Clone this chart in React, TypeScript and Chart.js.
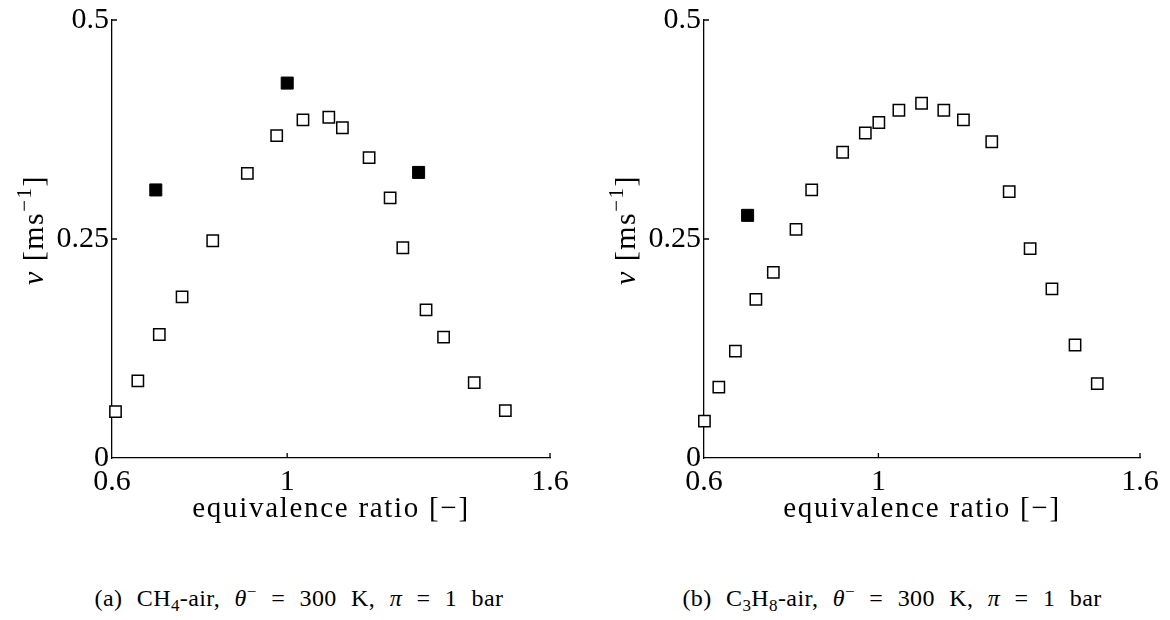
import React, { useEffect, useRef } from "react";
import { Chart, registerables } from "chart.js";

Chart.register(...registerables);

// Axis ticks shared by both panels
const xTickValues = [0.6, 1, 1.6];
const yTickValues = [0, 0.25, 0.5];

// Panel (a): CH4-air, laminar burning velocity v [m/s] vs equivalence ratio
const ch4PhiOpen = [0.608, 0.659, 0.708, 0.76, 0.83, 0.909, 0.976, 1.036, 1.095, 1.126, 1.187, 1.235, 1.264, 1.317, 1.357, 1.427, 1.498];
const ch4SpeedOpen = [0.053, 0.088, 0.141, 0.184, 0.248, 0.325, 0.368, 0.386, 0.389, 0.377, 0.343, 0.297, 0.24, 0.169, 0.138, 0.086, 0.054];
const ch4PhiFilled = [0.7, 1.0, 1.3];
const ch4SpeedFilled = [0.306, 0.428, 0.326];

// Panel (b): C3H8-air
const c3h8PhiOpen = [0.601, 0.634, 0.672, 0.719, 0.759, 0.811, 0.847, 0.918, 0.97, 1.001, 1.047, 1.099, 1.15, 1.195, 1.26, 1.3, 1.348, 1.398, 1.451, 1.502];
const c3h8SpeedOpen = [0.042, 0.081, 0.122, 0.181, 0.212, 0.261, 0.306, 0.349, 0.371, 0.383, 0.397, 0.405, 0.397, 0.386, 0.361, 0.304, 0.239, 0.193, 0.129, 0.085];
const c3h8PhiFilled = [0.7];
const c3h8SpeedFilled = [0.277];

const SERIF = '"Liberation Serif", "DejaVu Serif", serif';

type PanelProps = {
  phiOpen: number[];
  vOpen: number[];
  phiFilled: number[];
  vFilled: number[];
  left: number;
  axisLeft: number;
  rightPad: number;
};

const W = 585;
const H = 540;
const TOP = 20;
const BOTTOM = 458;

function Panel({ phiOpen, vOpen, phiFilled, vFilled, left, axisLeft, rightPad }: PanelProps) {
  const ref = useRef<HTMLCanvasElement | null>(null);

  useEffect(() => {
    const canvas = ref.current;
    if (!canvas) return;
    let chart: Chart | null = null;
    let cancelled = false;

    const decorations = {
      id: "decorations",
      afterDraw(c: any) {
        const { ctx, chartArea } = c;
        const xs = c.scales.x;
        const ys = c.scales.y;
        ctx.save();
        // inward tick marks
        ctx.strokeStyle = "#000";
        ctx.lineWidth = 1.3;
        ctx.beginPath();
        for (const v of yTickValues) {
          if (v === 0) continue;
          const py = ys.getPixelForValue(v);
          ctx.moveTo(chartArea.left, py);
          ctx.lineTo(chartArea.left + 5, py);
        }
        for (const v of xTickValues) {
          if (v === 0.6) continue;
          const px = xs.getPixelForValue(v);
          ctx.moveTo(px, chartArea.bottom);
          ctx.lineTo(px, chartArea.bottom - 5);
        }
        ctx.stroke();

        // x-axis title
        ctx.fillStyle = "#000";
        ctx.font = `29px ${SERIF}`;
        (ctx as any).letterSpacing = "1.7px";
        ctx.textAlign = "center";
        ctx.textBaseline = "middle";
        ctx.fillText("equivalence ratio [\u2212]", (chartArea.left + chartArea.right) / 2, 509);

        // y-axis title: v [ms^-1], rotated
        (ctx as any).letterSpacing = "1.5px";
        ctx.textAlign = "left";
        ctx.textBaseline = "alphabetic";
        const parts = [
          { t: "v", f: `italic 30px ${SERIF}`, dy: 0 },
          { t: " [ms", f: `30px ${SERIF}`, dy: 0 },
          { t: "\u22121", f: `21px ${SERIF}`, dy: -12 },
          { t: "]", f: `30px ${SERIF}`, dy: 0 },
        ];
        let total = 0;
        const widths = parts.map((p) => {
          ctx.font = p.f;
          const w = ctx.measureText(p.t).width;
          total += w;
          return w;
        });
        ctx.translate(chartArea.left - 69, 230);
        ctx.rotate(-Math.PI / 2);
        let x = -total / 2;
        parts.forEach((p, i) => {
          ctx.font = p.f;
          ctx.fillText(p.t, x, p.dy);
          x += widths[i];
        });
        ctx.restore();
      },
    };

    const build = () => {
      if (cancelled) return;
      chart = new Chart(canvas, {
        type: "scatter",
        data: {
          datasets: [
            {
              data: phiOpen.map((p, i) => ({ x: p, y: vOpen[i] })),
              pointStyle: "rect",
              pointRadius: 8,
              pointBackgroundColor: "#fff",
              pointBorderColor: "#000",
              pointBorderWidth: 1.5,
              clip: false,
            } as any,
            {
              data: phiFilled.map((p, i) => ({ x: p, y: vFilled[i] })),
              pointStyle: "rect",
              pointRadius: 8.5,
              pointBackgroundColor: "#000",
              pointBorderColor: "#000",
              pointBorderWidth: 1,
              clip: false,
            } as any,
          ],
        },
        options: {
          responsive: false,
          animation: false,
          events: [],
          layout: { padding: { left: 0, right: rightPad, top: TOP, bottom: 0 } },
          plugins: { legend: { display: false }, tooltip: { enabled: false } },
          scales: {
            x: {
              type: "linear",
              min: 0.6,
              max: 1.6,
              afterBuildTicks: (s: any) => {
                s.ticks = xTickValues.map((v) => ({ value: v }));
              },
              afterFit: (s: any) => {
                s.height = H - BOTTOM;
                s.paddingLeft = 0;
                s.paddingRight = 0;
              },
              grid: { display: false, drawTicks: false },
              border: { display: true, color: "#000", width: 1.3 },
              ticks: {
                color: "#000",
                font: { family: SERIF, size: 30 },
                padding: 6,
                maxRotation: 0,
                autoSkip: false,
                callback: (v: any) => String(v),
              },
            },
            y: {
              type: "linear",
              min: 0,
              max: 0.5,
              afterBuildTicks: (s: any) => {
                s.ticks = yTickValues.map((v) => ({ value: v }));
              },
              afterFit: (s: any) => {
                s.width = axisLeft;
                s.paddingTop = 0;
                s.paddingBottom = 0;
              },
              grid: { display: false, drawTicks: false },
              border: { display: true, color: "#000", width: 1.3 },
              ticks: {
                color: "#000",
                font: { family: SERIF, size: 30 },
                padding: 3,
                autoSkip: false,
                callback: (v: any) => String(v),
              },
            },
          },
        },
        plugins: [decorations],
      });
    };

    const fonts = (document as any).fonts;
    if (fonts && fonts.load) {
      Promise.all([
        fonts.load('30px "Liberation Serif"'),
        fonts.load('italic 30px "Liberation Serif"'),
      ])
        .catch(() => undefined)
        .then(build);
    } else {
      build();
    }

    return () => {
      cancelled = true;
      if (chart) chart.destroy();
    };
  }, [phiOpen, vOpen, phiFilled, vFilled, axisLeft, rightPad]);

  return (
    <canvas
      ref={ref}
      width={W}
      height={H}
      style={{ position: "absolute", left, top: 0, width: W, height: H }}
    />
  );
}

const captionStyle: React.CSSProperties = {
  position: "absolute",
  top: 583,
  fontFamily: SERIF,
  fontSize: 24,
  lineHeight: "30px",
  whiteSpace: "nowrap",
  color: "#000",
  transform: "translateX(-50%)",
  wordSpacing: "8px",
  letterSpacing: "0.4px",
};

const sub: React.CSSProperties = { fontSize: 17, position: "relative", top: 5 };
const sup: React.CSSProperties = { fontSize: 17, position: "relative", top: -9 };

export default function App() {
  return (
    <div style={{ position: "absolute", left: 0, top: 0, width: 1170, height: 620, background: "#fff" }}>
      <Panel
        phiOpen={ch4PhiOpen}
        vOpen={ch4SpeedOpen}
        phiFilled={ch4PhiFilled}
        vFilled={ch4SpeedFilled}
        left={0}
        axisLeft={112}
        rightPad={35}
      />
      <Panel
        phiOpen={c3h8PhiOpen}
        vOpen={c3h8SpeedOpen}
        phiFilled={c3h8PhiFilled}
        vFilled={c3h8SpeedFilled}
        left={585}
        axisLeft={119}
        rightPad={30}
      />
      <div style={{ ...captionStyle, left: 299 }}>
        (a) CH<span style={sub}>4</span>-air, <i>θ</i>
        <span style={sup}>−</span> = 300 K, <i>π</i> = 1 bar
      </div>
      <div style={{ ...captionStyle, left: 892 }}>
        (b) C<span style={sub}>3</span>H<span style={sub}>8</span>-air, <i>θ</i>
        <span style={sup}>−</span> = 300 K, <i>π</i> = 1 bar
      </div>
    </div>
  );
}
